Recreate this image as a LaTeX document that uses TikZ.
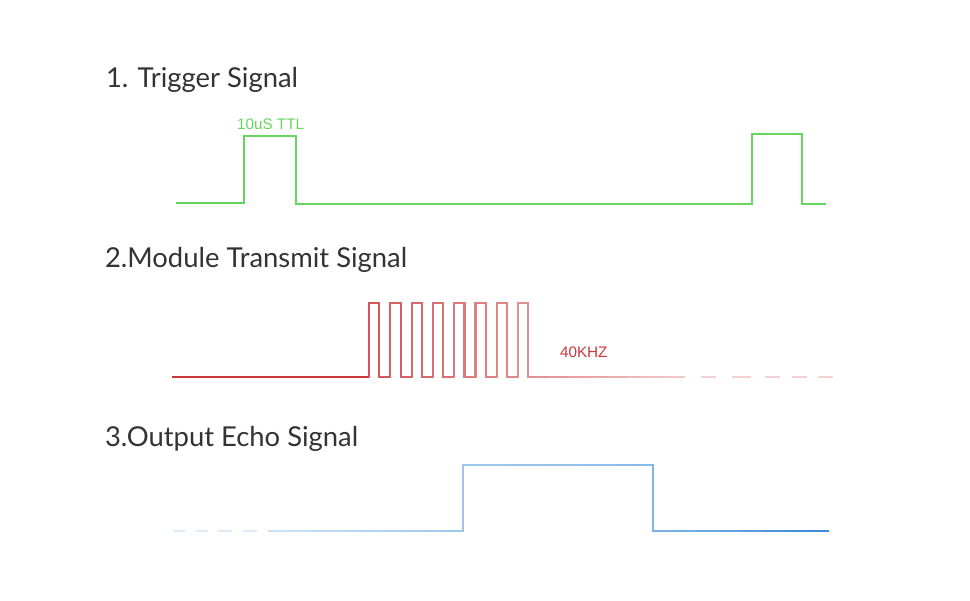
\documentclass[tikz,border=0pt]{standalone}
\usepackage{fontspec}
\setmainfont{Lato}
\setsansfont{Liberation Sans}
\usepackage{tikz}
\usetikzlibrary{positioning}
\definecolor{titleGrey}{HTML}{333333}
\definecolor{trigGreen}{HTML}{66D65E}
\definecolor{txRed}{HTML}{C8383C}
\definecolor{txPink}{HTML}{F4D2D2}
\definecolor{echoLight}{HTML}{D6E9F9}
\definecolor{echoBlue}{HTML}{3A8BD8}

\begin{document}
\begin{tikzpicture}[x=0.02cm, y=-0.02cm, line width=1.15pt,
  title/.style={font=\fontsize{15.6}{18}\selectfont, text=titleGrey, anchor=base west, inner sep=0pt},
  tag/.style={font=\sffamily\fontsize{8.7}{10}\selectfont, anchor=base west, inner sep=0pt}]
  \useasboundingbox (0,0) rectangle (970,600);
  % trigger
  \node[title] (trigTitle) at (105,87) {1. Trigger Signal};
  \draw[trigGreen] (176,203) -- (244,203) -- (244,136) -- (296,136) -- (296,204) -- (752,204) -- (752,134) -- (802,134) -- (802,204) -- (826,204);
  \node[tag, text=trigGreen] (ttl) at (236,129) {10uS TTL};
  % transmit
  \node[title] (txTitle) at (104,267) {2.Module Transmit Signal};
  \draw[txRed, line cap=rect] (173,377) -- (369,377);
  \foreach \i in {0,...,7} {
    \pgfmathsetmacro{\a}{369+21.3*\i}
    \pgfmathsetmacro{\b}{\a+10.3}
    \pgfmathsetmacro{\c}{\a+21.3}
    \pgfmathtruncatemacro{\m}{22+5*\i}
    \draw[txPink!\m!txRed, line cap=rect] (\a,377) -- (\a,303) -- (\b,303) -- (\b,377) -- (\c,377);
  }
  \foreach \k in {0,...,7} {
    \pgfmathsetmacro{\xa}{529+19.5*\k}
    \pgfmathsetmacro{\xb}{\xa+19.5}
    \pgfmathtruncatemacro{\m}{58+5*\k}
    \draw[txPink!\m!txRed] (\xa,377) -- (\xb,377);
  }
  \foreach \xa/\xb in {701/716, 732/751, 765/780, 792/807, 818/833}
    \draw[txPink] (\xa,377) -- (\xb,377);
  \node[tag, text=txRed] (khz) at (559,357) {40KHZ};
  % echo
  \node[title] (echoTitle) at (104,446) {3.Output Echo Signal};
  \foreach \xa/\xb in {173/185, 196/208, 218/232, 243/257}
    \draw[echoLight!85!white] (\xa,531) -- (\xb,531);
  \foreach \k in {0,...,9} {
    \pgfmathsetmacro{\xa}{269+19.4*\k}
    \pgfmathsetmacro{\xb}{\xa+19.4}
    \pgfmathtruncatemacro{\m}{8+3*\k}
    \draw[echoBlue!\m!echoLight, line cap=rect] (\xa,531) -- (\xb,531);
  }
  \draw[echoBlue!38!echoLight, line cap=rect] (463,531) -- (463,465) -- (510,465);
  \foreach \k in {0,...,3} {
    \pgfmathsetmacro{\xa}{510+35.75*\k}
    \pgfmathsetmacro{\xb}{\xa+35.75}
    \pgfmathtruncatemacro{\m}{40+3*\k}
    \draw[echoBlue!\m!echoLight, line cap=rect] (\xa,465) -- (\xb,465);
  }
  \draw[echoBlue!54!echoLight, line cap=rect] (653,465) -- (653,531);
  \foreach \k in {0,...,7} {
    \pgfmathsetmacro{\xa}{653+22*\k}
    \pgfmathsetmacro{\xb}{\xa+22}
    \pgfmathtruncatemacro{\m}{58+6*\k}
    \draw[echoBlue!\m!echoLight] (\xa,531) -- (\xb,531);
  }
\end{tikzpicture}
\end{document}
